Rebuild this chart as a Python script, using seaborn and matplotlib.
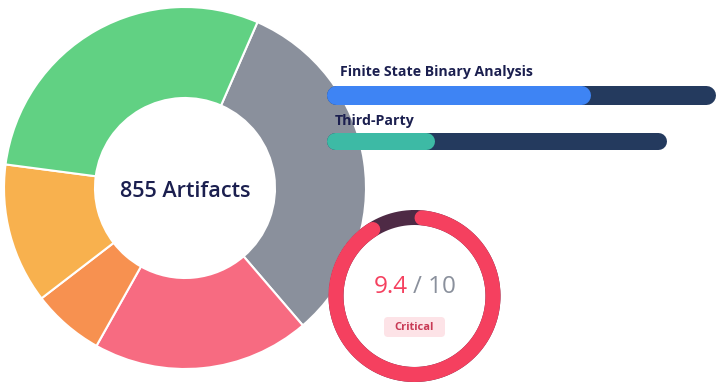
import numpy as np
import matplotlib
matplotlib.use("Agg")
import matplotlib.pyplot as plt
import seaborn as sns
from matplotlib.patches import Circle, FancyBboxPatch

# ---------------- data ----------------
artifact_categories = ["Low", "High", "Critical-ish", "Medium", "None"]
artifact_counts = [275, 166, 55, 107, 252]          # gray, pink, orange, yellow, green
artifact_colors = ["#8A909C", "#F76B81", "#F79150", "#F8B14E", "#61D183"]
total_label = "855 Artifacts"

bar_labels = ["Finite State Binary Analysis", "Third-Party"]
bar_fractions = [0.68, 0.32]
bar_colors = ["#3E84F4", "#3DBAA5"]

score = 9.4
score_max = 10
severity = "Critical"

# ---------------- style ----------------
sns.set_theme(style="white")
plt.rcParams["font.family"] = ["Open Sans", "DejaVu Sans"]

W, H = 719, 388
fig = plt.figure(figsize=(W / 100, H / 100), dpi=100)
ax = fig.add_axes([0, 0, 1, 1])

NAVY_TXT = "#1B1F4F"
TRACK = "#243A5E"

# ---------------- donut ----------------
cx, cy, R = 185, H - 188, 181
ax.pie(artifact_counts, colors=artifact_colors, startangle=66.4,
       counterclock=False, radius=R, center=(cx, cy),
       wedgeprops=dict(width=R - 90, edgecolor="white", linewidth=1.5))
ax.text(cx, H - 197, total_label, ha="center", va="baseline",
        fontsize=15.6, fontweight="semibold", color=NAVY_TXT)

# ---------------- progress bars ----------------
bar_x0 = 326
bar_x1 = [715, 666]
bar_y = [94.5, 140.5]
bar_h = [19, 17]
label_pos = [(340, 76), (335, 125)]
for lab, frac, col, x1, yc, h, (lx, ly) in zip(bar_labels, bar_fractions, bar_colors,
                                               bar_x1, bar_y, bar_h, label_pos):
    lw = h * 0.72
    r = h / 2
    ax.plot([bar_x0 + r, x1 - r], [H - yc, H - yc], color=TRACK, lw=lw,
            solid_capstyle="round", zorder=5)
    fx = bar_x0 + frac * (x1 - bar_x0)
    ax.plot([bar_x0 + r, fx - r], [H - yc, H - yc], color=col, lw=lw,
            solid_capstyle="round", zorder=6)
    ax.text(lx, H - ly, lab, ha="left", va="baseline", fontsize=10.2,
            fontweight="bold", color=NAVY_TXT, zorder=7)

# ---------------- gauge ----------------
gx, gy = 414.5, H - 296
g_outer = 86
g_w = 15
g_r = g_outer - g_w / 2
ax.add_patch(Circle((gx, gy), g_outer, facecolor="white", edgecolor="none", zorder=8))
theta = np.linspace(0, 2 * np.pi, 400)
ax.plot(gx + g_r * np.sin(theta), gy + g_r * np.cos(theta), color="#4E2A45",
        lw=g_w * 0.72, zorder=9)
start = np.deg2rad(5.5)
span = 2 * np.pi * score / score_max - np.deg2rad(16)
theta2 = np.linspace(start, start + span, 400)
ax.plot(gx + g_r * np.sin(theta2), gy + g_r * np.cos(theta2), color="#F5405F",
        lw=g_w * 0.72, solid_capstyle="round", zorder=10)

ax.text(408, H - 293, f"{score:g}", ha="right", va="baseline", fontsize=17.5,
        color="#F5405F", zorder=11)
ax.text(413, H - 293, f"/ {score_max}", ha="left", va="baseline", fontsize=17.5,
        color="#8A909C", zorder=11)

ax.add_patch(FancyBboxPatch((387, H - 334), 55, 14,
                            boxstyle="round,pad=3,rounding_size=4",
                            facecolor="#FDE3E7", edgecolor="none", zorder=11))
ax.text(414.5, H - 327, severity, ha="center", va="center", fontsize=8,
        fontweight="bold", color="#C83A55", zorder=12)

ax.set_xlim(0, W)
ax.set_ylim(0, H)
ax.set_aspect("equal")
ax.axis("off")
fig.savefig("out.png", dpi=100, facecolor="white")
